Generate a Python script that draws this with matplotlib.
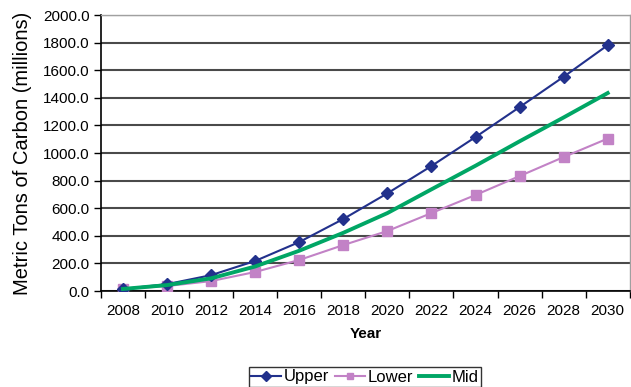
import matplotlib
matplotlib.use("Agg")
import matplotlib.pyplot as plt
import numpy as np

years = ["2008", "2010", "2012", "2014", "2016", "2018",
         "2020", "2022", "2024", "2026", "2028", "2030"]
upper = [15, 50, 115, 218, 355, 522, 708, 906, 1116, 1333, 1553, 1782]
lower = [15, 36, 72, 138, 225, 333, 435, 565, 696, 833, 971, 1105]
mid = [15, 43, 92, 178, 292, 422, 565, 737, 908, 1085, 1258, 1435]

plt.rcParams['font.family'] = ['Liberation Sans', 'DejaVu Sans']

fig = plt.figure(figsize=(6.31, 3.87), dpi=100)
ax = fig.add_axes([0.160, 0.248, 0.838, 0.713])

x = np.arange(len(years))
ax.plot(x, upper, color='#22318C', lw=1.5, marker='D', ms=6.5, label='Upper', zorder=4)
ax.plot(x, lower, color='#C282C6', lw=1.5, marker='s', ms=6.5, label='Lower', zorder=3)
ax.plot(x, mid, color='#00A665', lw=2.8, label='Mid', zorder=5)

ax.set_xlim(-0.5, len(years) - 0.5)
ax.set_ylim(0, 2000)
ax.set_yticks(np.arange(0, 2001, 200))
ax.set_yticklabels([f"{v:.1f}" for v in np.arange(0, 2001, 200)], fontsize=11)
ax.set_xticks(x)
ax.set_xticklabels(years, fontsize=11)
ax.set_xticks(np.arange(-0.5, len(years)), minor=True)
ax.tick_params(axis='x', which='major', length=0, pad=9)
ax.tick_params(axis='x', which='minor', length=5, width=1, direction='out')
ax.tick_params(axis='y', length=5, width=1, direction='out', pad=3)

ax.grid(axis='y', color='#4a4a4a', lw=1.5)
ax.set_axisbelow(True)
for s in ['top', 'right']:
    ax.spines[s].set_color('#a0a0a0')
    ax.spines[s].set_linewidth(1)
for s in ['left', 'bottom']:
    ax.spines[s].set_color('black')
    ax.spines[s].set_linewidth(1.2)

ax.set_ylabel("Metric Tons of Carbon (millions)", fontsize=14.5, labelpad=8)
ax.set_xlabel("Year", fontsize=11, fontweight='bold', labelpad=7)

leg = fig.legend(loc='lower center', bbox_to_anchor=(0.578, 0.0), ncol=3,
                 fontsize=12, frameon=True, fancybox=False, edgecolor='black',
                 handlelength=1.8, handletextpad=0.15, columnspacing=0.35,
                 borderpad=0.15, borderaxespad=0, markerscale=0.75)
leg.get_frame().set_linewidth(1)

fig.savefig("out.png", dpi=100)
